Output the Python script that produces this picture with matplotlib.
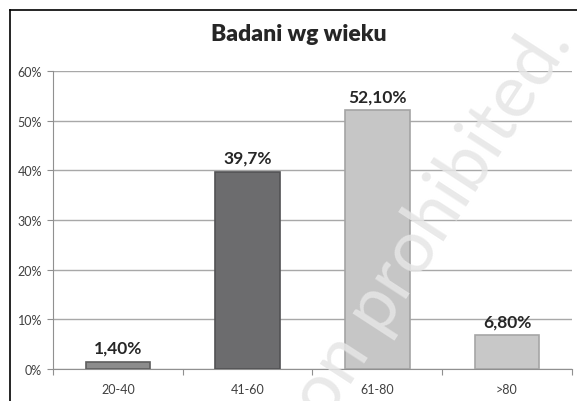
import matplotlib
matplotlib.use('Agg')
import matplotlib.pyplot as plt
from matplotlib.lines import Line2D

# data
categories = ['20-40', '41-60', '61-80', '>80']
shares = [0.014, 0.397, 0.521, 0.068]
value_labels = ['1,40%', '39,7%', '52,10%', '6,80%']
y_ticks = [0.0, 0.1, 0.2, 0.3, 0.4, 0.5, 0.6]
y_tick_labels = ['0%', '10%', '20%', '30%', '40%', '50%', '60%']

bar_colors = ['#8c8c8c', '#6c6c6e', '#c6c6c6', '#c8c8c8']
edge_colors = ['#5e5e5e', '#525254', '#a4a4a4', '#a6a6a6']

plt.rcParams['font.family'] = ['Lato', 'DejaVu Sans']

fig = plt.figure(figsize=(5.77, 4.02), dpi=100)
ax = fig.add_axes([0.092, 0.080, 0.899, 0.741])

x = list(range(len(categories)))
ax.bar(x, shares, width=0.5, color=bar_colors, edgecolor=edge_colors,
       linewidth=1.2, zorder=3)

for xi, v, lab in zip(x, shares, value_labels):
    ax.text(xi, v + 0.012, lab, ha='center', va='bottom', fontsize=12.5,
            fontweight='bold', color='#262626', zorder=4)

ax.set_xlim(-0.5, 3.5)
ax.set_ylim(0, 0.6)
ax.set_yticks(y_ticks)
ax.set_yticklabels(y_tick_labels, fontsize=9, color='#404040')
ax.yaxis.grid(True, color='#a8a8a8', linewidth=1, zorder=0)

# category boundaries as major ticks, labels at the centres
ax.set_xticks([-0.5, 0.5, 1.5, 2.5, 3.5])
ax.set_xticklabels([])
ax.set_xticks(x, minor=True)
ax.set_xticklabels(categories, minor=True, fontsize=9, color='#404040')
ax.tick_params(axis='x', which='major', length=4, color='#909090', direction='out')
ax.tick_params(axis='x', which='minor', length=0, pad=10)
ax.tick_params(axis='y', length=4, color='#909090', pad=4)

for side in ['top', 'right']:
    ax.spines[side].set_visible(False)
ax.spines['left'].set_color('#909090')
ax.spines['bottom'].set_color('#909090')

fig.text(0.518, 0.913, 'Badani wg wieku', ha='center', va='center',
         fontsize=16.5, fontweight='heavy', color='#262626')

# outer frame (only top and left edges fall inside the image)
fig.add_artist(Line2D([0.0173, 1.0], [0.973, 0.973], color='black', linewidth=1.2))
fig.add_artist(Line2D([0.0173, 0.0173], [0.0, 0.973], color='black', linewidth=1.2))

# watermark (cut by the bottom edge, as in the source image)
fig.text(0.749, 0.448, 'on prohibited.', ha='center', va='center',
         rotation=57, rotation_mode='anchor', fontsize=53,
         color='#e6e6e6', alpha=0.85, zorder=10)

fig.savefig('out.png', dpi=100)
